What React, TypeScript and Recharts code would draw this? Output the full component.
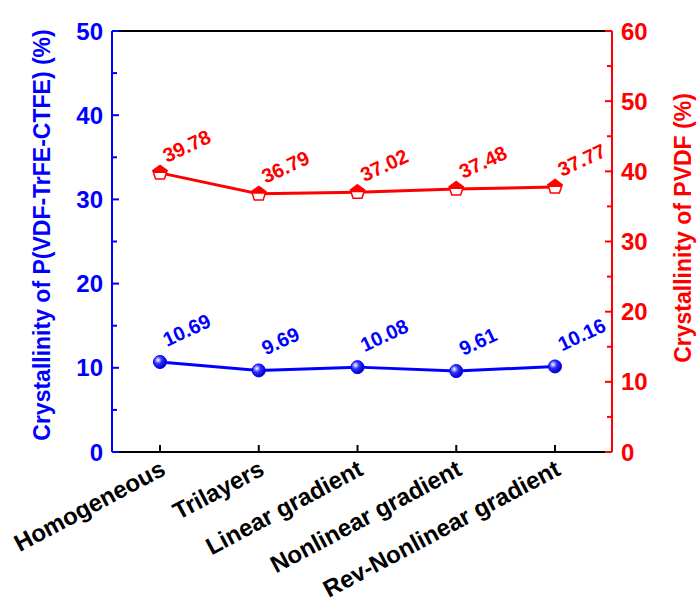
import React from "react";
import { LineChart, Line, XAxis, YAxis, ReferenceLine, LabelList } from "recharts";

const categories = [
  "Homogeneous",
  "Trilayers",
  "Linear gradient",
  "Nonlinear gradient",
  "Rev-Nonlinear gradient",
];
const terpolymerCryst = [10.69, 9.69, 10.08, 9.61, 10.16];
const pvdfCryst = [39.78, 36.79, 37.02, 37.48, 37.77];
const leftTicks = [0, 5, 10, 15, 20, 25, 30, 35, 40, 45, 50];
const rightTicks = [0, 5, 10, 15, 20, 25, 30, 35, 40, 45, 50, 55, 60];

const data = categories.map((name, i) => ({
  name,
  terpolymer: terpolymerCryst[i],
  pvdf: pvdfCryst[i],
}));

const BLUE = "#0000FF";
const RED = "#FF0000";
const FONT = "Arial, 'Liberation Sans', sans-serif";

const LeftTick = (props: any) => {
  const { x, y, payload } = props;
  const major = payload.value % 10 === 0;
  return (
    <g>
      <line x1={x} x2={x + (major ? 7 : 5)} y1={y} y2={y} stroke={BLUE} strokeWidth={2} />
      {major && (
        <text x={x - 9} y={y} dy="0.36em" textAnchor="end" fill={BLUE}
          fontSize={24} fontWeight="bold" fontFamily={FONT}>
          {payload.value}
        </text>
      )}
    </g>
  );
};

const RightTick = (props: any) => {
  const { x, y, payload } = props;
  const major = payload.value % 10 === 0;
  return (
    <g>
      <line x1={x} x2={x - (major ? 7 : 5)} y1={y} y2={y} stroke={RED} strokeWidth={2} />
      {major && (
        <text x={x + 9} y={y} dy="0.36em" textAnchor="start" fill={RED}
          fontSize={24} fontWeight="bold" fontFamily={FONT}>
          {payload.value}
        </text>
      )}
    </g>
  );
};

const BottomTick = (props: any) => {
  const { x, y, payload } = props;
  const ax = x + 7;
  const ay = y + 22;
  return (
    <g>
      <line x1={x} x2={x} y1={y} y2={y - 7} stroke="#000" strokeWidth={2} />
      <text x={ax} y={ay} textAnchor="end" fill="#000"
        fontSize={24} fontWeight="bold" fontFamily={FONT}
        transform={`rotate(-28, ${ax}, ${ay})`}>
        {payload.value}
      </text>
    </g>
  );
};

const SphereDot = (props: any) => {
  const { cx, cy } = props;
  return <circle cx={cx} cy={cy} r={6.5} fill="url(#blueSphere)" stroke={BLUE} strokeWidth={1} />;
};

const HalfPentagon = (props: any) => {
  const { cx, cy } = props;
  const r = 7.5;
  const pt = (deg: number) => {
    const a = (deg * Math.PI) / 180;
    return [cx + r * Math.cos(a), cy + r * Math.sin(a)];
  };
  const verts = [-90, -18, 54, 126, 198].map(pt);
  const full = verts.map((p) => p.join(",")).join(" ");
  const top = [
    verts[0],
    verts[1],
    [cx + 0.851 * r, cy],
    [cx - 0.851 * r, cy],
    verts[4],
  ]
    .map((p) => p.join(","))
    .join(" ");
  return (
    <g>
      <polygon points={full} fill="#fff" stroke={RED} strokeWidth={1.5} />
      <polygon points={top} fill={RED} />
    </g>
  );
};

const makeValueLabel = (color: string, dy: number) => (props: any) => {
  const { x, y, value } = props;
  const lx = x + 7;
  const ly = y + dy;
  return (
    <text x={lx} y={ly} fill={color} fontSize={20} fontWeight="bold" fontFamily={FONT}
      transform={`rotate(-25, ${lx}, ${ly})`}>
      {value.toFixed(2)}
    </text>
  );
};

export default function App() {
  return (
    <div style={{ position: "absolute", left: 0, top: 0, background: "#fff" }}>
      <LineChart
        width={697}
        height={606}
        data={data}
        margin={{ top: 31, right: 84, bottom: 153, left: 111 }}
      >
        <defs>
          <radialGradient id="blueSphere" cx="35%" cy="35%" r="65%">
            <stop offset="0%" stopColor="#ffffff" />
            <stop offset="45%" stopColor="#3030ff" />
            <stop offset="100%" stopColor="#0000c0" />
          </radialGradient>
        </defs>
        <XAxis
          dataKey="name"
          height={1}
          interval={0}
          padding={{ left: 48, right: 57 }}
          axisLine={{ stroke: "#000", strokeWidth: 2 }}
          tickLine={false}
          tickSize={0}
          tickMargin={0}
          tick={<BottomTick />}
        />
        <YAxis
          yAxisId="left"
          width={1}
          domain={[0, 50]}
          ticks={leftTicks}
          interval={0}
          axisLine={{ stroke: BLUE, strokeWidth: 2 }}
          tickLine={false}
          tickSize={0}
          tickMargin={0}
          tick={<LeftTick />}
          label={{
            content: () => {
              const cx = 42;
              const cy = 235;
              return (
                <text x={cx} y={cy} textAnchor="middle" dominantBaseline="central"
                  fill={BLUE} fontSize={23} fontWeight="bold" fontFamily={FONT}
                  transform={`rotate(-90, ${cx}, ${cy})`}>
                  Crystallinity of P(VDF-TrFE-CTFE) (%)
                </text>
              );
            },
          }}
        />
        <YAxis
          yAxisId="right"
          orientation="right"
          width={1}
          domain={[0, 60]}
          ticks={rightTicks}
          interval={0}
          axisLine={{ stroke: RED, strokeWidth: 2 }}
          tickLine={false}
          tickSize={0}
          tickMargin={0}
          tick={<RightTick />}
          label={{
            content: () => {
              const cx = 683;
              const cy = 228;
              return (
                <text x={cx} y={cy} textAnchor="middle" dominantBaseline="central"
                  fill={RED} fontSize={23} fontWeight="bold" fontFamily={FONT}
                  transform={`rotate(-90, ${cx}, ${cy})`}>
                  Crystallinity of PVDF (%)
                </text>
              );
            },
          }}
        />
        <ReferenceLine yAxisId="left" y={50} stroke="#000" strokeWidth={2} />
        <Line
          yAxisId="left"
          dataKey="terpolymer"
          stroke={BLUE}
          strokeWidth={3}
          dot={<SphereDot />}
          activeDot={false}
          isAnimationActive={false}
        >
          <LabelList dataKey="terpolymer" content={makeValueLabel(BLUE, -15)} />
        </Line>
        <Line
          yAxisId="right"
          dataKey="pvdf"
          stroke={RED}
          strokeWidth={3}
          dot={<HalfPentagon />}
          activeDot={false}
          isAnimationActive={false}
        >
          <LabelList dataKey="pvdf" content={makeValueLabel(RED, -10)} />
        </Line>
      </LineChart>
    </div>
  );
}
